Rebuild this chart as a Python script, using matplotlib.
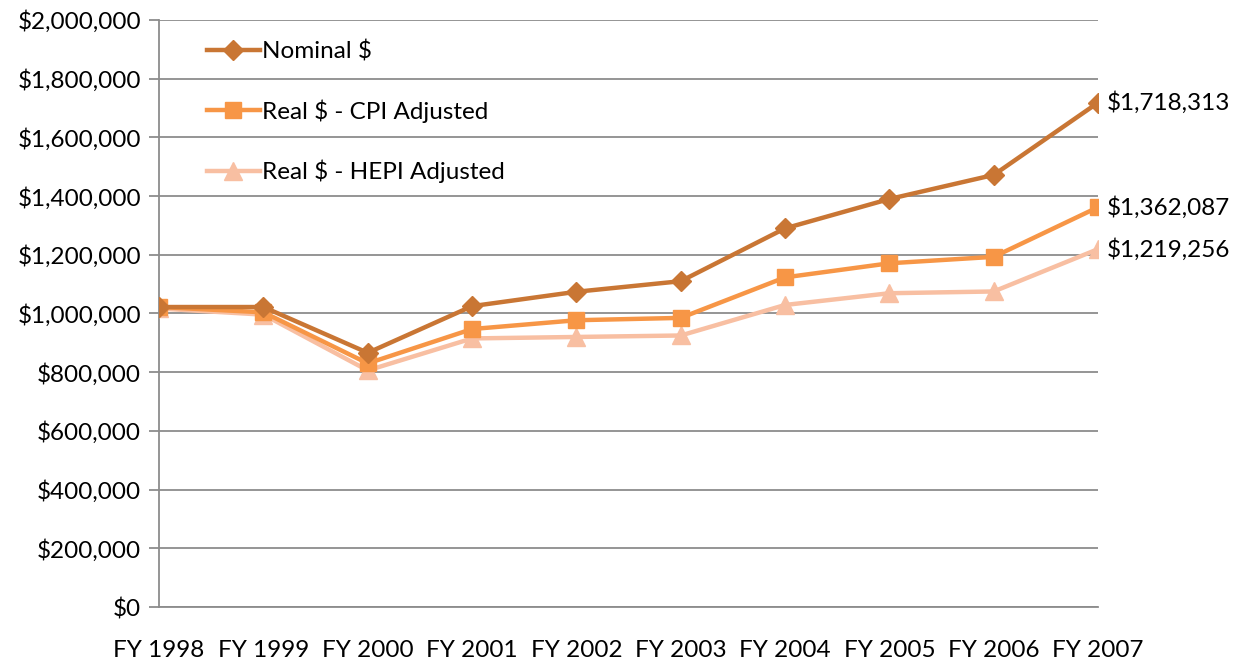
import matplotlib.pyplot as plt
from matplotlib.ticker import FuncFormatter

plt.rcParams["font.family"] = ["Lato", "DejaVu Sans"]

years = ["FY 1998", "FY 1999", "FY 2000", "FY 2001", "FY 2002",
         "FY 2003", "FY 2004", "FY 2005", "FY 2006", "FY 2007"]
nominal = [1022000, 1022000, 866000, 1025000, 1074000,
           1110000, 1290000, 1390000, 1472000, 1718313]
real_cpi = [1022000, 1004000, 830000, 947000, 977000,
            985000, 1123000, 1171000, 1193000, 1362087]
real_hepi = [1017000, 996000, 806000, 915000, 920000,
             925000, 1029000, 1069000, 1075000, 1219256]

c_nom = "#C97634"
c_cpi = "#F79646"
c_hepi = "#F8BFA2"
grid_c = "#8C8C8C"
fs = 17.5

fig = plt.figure(figsize=(12.43, 6.65), dpi=100)
ax = fig.add_axes([0.128, 0.0872, 0.7554, 0.8828])

x = list(range(len(years)))
ax.plot(x, real_hepi, color=c_hepi, lw=3.2, marker="^", ms=13,
        label="Real $ - HEPI Adjusted", zorder=3)
ax.plot(x, real_cpi, color=c_cpi, lw=3.2, marker="s", ms=12,
        label="Real $ - CPI Adjusted", zorder=4)
ax.plot(x, nominal, color=c_nom, lw=3.2, marker="D", ms=10,
        label="Nominal $", zorder=5)

# end labels
for s in (nominal, real_cpi, real_hepi):
    ax.annotate("${:,.0f}".format(s[-1]), (x[-1], s[-1]), xytext=(6, 0),
                textcoords="offset points", va="center", ha="left",
                fontsize=fs, annotation_clip=False)

ax.set_xlim(0, len(years) - 1)
ax.set_ylim(0, 2000000)
ax.set_yticks(range(0, 2000001, 200000))
ax.yaxis.set_major_formatter(FuncFormatter(lambda v, p: "${:,.0f}".format(v)))
ax.set_xticks(x)
ax.set_xticklabels(years)
ax.tick_params(axis="y", length=7, width=1.3, color=grid_c, labelsize=fs, pad=6)
ax.tick_params(axis="x", length=0, labelsize=fs, pad=24)
ax.grid(axis="y", color=grid_c, lw=1.3)
ax.set_axisbelow(True)
for side in ("top", "right"):
    ax.spines[side].set_visible(False)
for side in ("left", "bottom"):
    ax.spines[side].set_color(grid_c)
    ax.spines[side].set_linewidth(1.3)

h, l = ax.get_legend_handles_labels()
ax.legend(h[::-1], l[::-1], loc="upper left", bbox_to_anchor=(0.035, 0.99),
          frameon=False, fontsize=fs, labelspacing=1.52, handlelength=2.2,
          handletextpad=0.1, borderaxespad=0.2)

fig.savefig("out.png", dpi=100)
